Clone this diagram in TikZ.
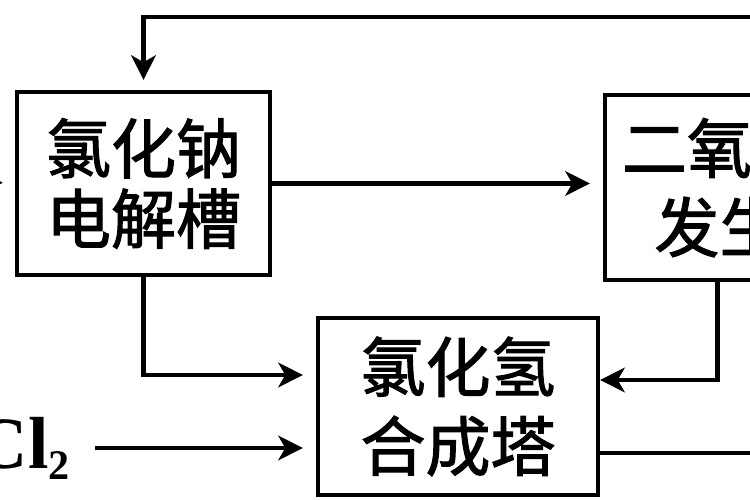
\documentclass[tikz,border=0pt]{standalone}
\usepackage{fontspec}
\newfontfamily\cjk{Noto Sans CJK SC}[FakeBold=1.6]
\newfontfamily\latin{Liberation Serif}
\usetikzlibrary{arrows.meta,positioning}

\begin{document}
\begin{tikzpicture}[
    >={Stealth[length=14pt, width=14pt, inset=4pt]},
    unitbox/.style={draw, line width=2.4pt, inner sep=0pt, align=center,
        font=\cjk\fontsize{37}{45}\selectfont},
    flow/.style={->, line width=2.4pt},
    pipe/.style={line width=2.4pt},
    gaslabel/.style={font=\latin\bfseries\fontsize{42}{42}\selectfont, inner sep=0pt},
]
\useasboundingbox (0,0) rectangle (15,10);
\clip (0,0) rectangle (15,10);

% === Units ===
\node[unitbox, minimum width=5.06cm, minimum height=3.66cm,
    font=\cjk\fontsize{37}{40}\selectfont] (nacl) at (2.87, 6.33) {氯化钠\\电解槽};
\node[unitbox, minimum width=5.88cm, minimum height=3.7cm] (clo) at (15.04, 6.25) {二氧化氯\\发生器};
\node[unitbox, minimum width=5.6cm, minimum height=3.54cm] (hcl) at (9.16, 1.87) {氯化氢\\合成塔};

% Feed gas
\node[gaslabel, anchor=east] (cl) at (1.4, 1.04) {Cl\raisebox{-0.15em}{\fontsize{24}{24}\selectfont 2}};

% Loose ends off the picture
\coordinate (inL)  at (-1.0, 6.4);
\coordinate (topR) at (15.5, 9.66);

% === Connectors ===
\draw[flow, shorten >=0.24cm] (inL) -- (nacl.west);
\draw[flow, shorten >=0.2cm] (topR) -| (nacl.north);
\draw[flow, shorten >=0.26cm] (nacl.east) -- (clo.west |- nacl.east);
\draw[flow, shorten >=0.26cm] (nacl.south) |- ([yshift=0.63cm]hcl.west);
\draw[flow, shorten <=0.5cm, shorten >=0.26cm] (cl.east) -- (hcl.west |- cl.east);
\draw[flow] ([xshift=-0.69cm]clo.south) |- ([yshift=0.53cm]hcl.east);
\draw[pipe] ([yshift=-0.93cm]hcl.east) -- ++(4, 0);

\end{tikzpicture}
\end{document}
